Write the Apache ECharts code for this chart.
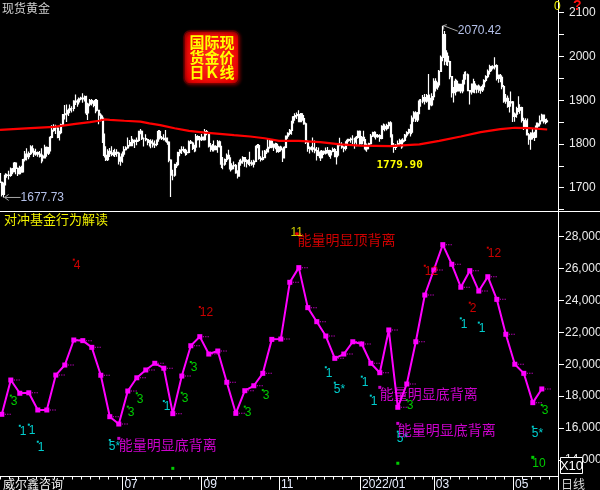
<!DOCTYPE html>
<html><head><meta charset="utf-8">
<script src="https://cdn.jsdelivr.net/npm/echarts@6/dist/echarts.min.js"></script>
<style>html,body{margin:0;padding:0;background:#000;}#c{width:600px;height:490px;}</style>
</head><body><div id="c"></div>
<script>
// ---- daily candles [open, close, low, high], trading day index 0 = 2021-03-29 ----
const candles = [
[1732,1712,1705,1733],[1712,1685,1680,1714],[1685,1708,1677.73,1712],[1708,1728,1705,1733],[1728,1729,1723,1732],
[1729,1728,1719,1739],[1728,1743,1725,1746],[1743,1737,1731,1745],[1737,1756,1736,1759],[1756,1744,1731,1758],
[1744,1732,1727,1746],[1732,1746,1730,1750],[1746,1736,1734,1750],[1736,1764,1735,1766],[1764,1777,1760,1784],
[1777,1771,1762,1790],[1771,1778,1765,1783],[1778,1793,1775,1797],[1793,1783,1780,1797],[1783,1777,1770,1790],
[1777,1780,1773,1789],[1780,1777,1771,1783],[1777,1773,1769,1784],[1773,1772,1756,1790],[1772,1768,1760,1776],
[1768,1792,1768,1798],[1792,1779,1771,1794],[1779,1785,1775,1793],[1785,1815,1783,1818],[1815,1831,1813,1843],
[1831,1836,1828,1845],[1836,1836,1823,1844],[1836,1815,1813,1838],[1815,1826,1808,1830],[1826,1844,1822,1846],
[1844,1867,1842,1868],[1867,1869,1856,1889],[1869,1869,1850,1890],[1869,1877,1864,1881],[1877,1881,1870,1890],
[1881,1881,1872,1886],[1881,1898,1875,1900],[1898,1896,1889,1913],[1896,1896,1885,1902],[1896,1903,1890,1906],
[1903,1905,1900,1908],[1905,1903,1894,1916],[1903,1908,1897,1911],[1908,1871,1866,1910],[1871,1891,1855,1894],
[1891,1899,1886,1903],[1899,1893,1888,1903],[1893,1888,1884,1899],[1888,1899,1870,1903],[1899,1877,1874,1903],
[1877,1866,1845,1878],[1866,1859,1852,1870],[1859,1812,1802,1865],[1812,1774,1769,1824],[1774,1764,1761,1795],
[1764,1783,1761,1788],[1783,1778,1770,1791],[1778,1779,1772,1795],[1779,1776,1772,1786],[1776,1781,1770,1789],
[1781,1779,1771,1788],[1779,1761,1753,1782],[1761,1770,1750,1771],[1770,1777,1757,1783],[1777,1787,1771,1795],
[1787,1791,1785,1795],[1791,1796,1789,1815],[1796,1803,1794,1809],[1803,1803,1795,1818],[1803,1808,1795,1812],
[1808,1806,1791,1810],[1806,1808,1797,1815],[1808,1825,1805,1830],[1825,1829,1822,1834],[1829,1812,1809,1831],
[1812,1812,1794,1815],[1812,1810,1806,1822],[1810,1804,1797,1812],[1804,1806,1794,1809],[1806,1802,1790,1811],
[1802,1798,1792,1810],[1798,1799,1791,1808],[1799,1807,1795,1810],[1807,1828,1805,1832],[1828,1814,1810,1832],
[1814,1813,1809,1818],[1813,1810,1808,1822],[1810,1813,1805,1832],[1813,1804,1798,1815],[1804,1763,1758,1806],
[1763,1729,1679,1765],[1729,1729,1717,1741],[1729,1752,1725,1755],[1752,1753,1745,1758],[1753,1780,1749,1782],
[1780,1786,1772,1788],[1786,1787,1777,1795],[1787,1787,1781,1794],[1787,1780,1773,1789],[1780,1781,1775,1787],
[1781,1805,1779,1808],[1805,1802,1800,1809],[1802,1790,1786,1805],[1790,1793,1781,1798],[1793,1817,1783,1823],
[1817,1810,1808,1820],[1810,1814,1792,1818],[1814,1815,1807,1823],[1815,1810,1808,1817],[1810,1828,1808,1834],
[1828,1824,1820,1832],[1824,1795,1792,1827],[1795,1788,1782,1802],[1788,1795,1783,1800],[1795,1787,1783,1808],
[1787,1794,1786,1797],[1794,1805,1780,1809],[1805,1794,1792,1808],[1794,1754,1745,1796],[1754,1754,1742,1770],
[1754,1764,1750,1767],[1764,1774,1759,1778],[1774,1768,1765,1787],[1768,1743,1737,1769],[1743,1750,1740,1756],
[1750,1751,1742,1760],[1751,1734,1732,1754],[1734,1727,1721,1740],[1727,1757,1725,1764],[1757,1761,1750,1766],
[1761,1769,1755,1772],[1769,1760,1748,1770],[1760,1762,1746,1765],[1762,1756,1752,1765],[1756,1757,1749,1782],
[1757,1754,1750,1763],[1754,1760,1746,1764],[1760,1793,1758,1796],[1793,1796,1790,1800],[1796,1767,1764,1800],
[1767,1765,1760,1772],[1765,1769,1762,1785],[1769,1783,1768,1786],[1783,1782,1777,1789],[1782,1792,1781,1813],
[1792,1807,1789,1810],[1807,1793,1790,1810],[1793,1798,1784,1801],[1798,1799,1788,1803],[1799,1783,1780,1802],
[1783,1793,1780,1796],[1793,1787,1783,1796],[1787,1769,1759,1790],[1769,1792,1767,1795],[1792,1818,1790,1819],
[1818,1824,1812,1827],[1824,1831,1820,1834],[1831,1850,1821,1853],[1850,1862,1847,1864],[1862,1865,1853,1870],
[1865,1867,1857,1872],[1867,1851,1850,1877],[1851,1869,1850,1871],[1869,1858,1853,1869],[1858,1846,1844,1866],
[1846,1804,1800,1849],[1804,1790,1782,1808],[1790,1789,1778,1794],[1789,1791,1785,1795],[1791,1788,1781,1815],
[1788,1785,1779,1808],[1785,1774,1762,1793],[1774,1781,1772,1792],[1781,1769,1761,1785],[1769,1783,1767,1786],
[1783,1779,1775,1785],[1779,1785,1776,1792],[1785,1783,1778,1793],[1783,1775,1770,1787],[1775,1783,1766,1786],
[1783,1787,1781,1792],[1787,1771,1770,1791],[1771,1777,1753,1784],[1777,1799,1773,1800],[1799,1798,1795,1814],
[1798,1793,1789,1804],[1793,1790,1781,1795],[1790,1803,1785,1806],[1803,1808,1800,1812],[1808,1810,1805,1812],
[1810,1811,1803,1815],[1811,1811,1800,1820],[1811,1805,1789,1814],[1805,1815,1795,1818],[1815,1829,1812,1831],
[1829,1801,1798,1831],[1801,1815,1799,1818],[1815,1810,1806,1830],[1810,1789,1785,1811],[1789,1797,1782,1801],
[1797,1801,1788,1803],[1801,1818,1799,1823],[1818,1826,1816,1828],[1826,1821,1814,1829],[1821,1817,1810,1828],
[1817,1819,1814,1823],[1819,1813,1805,1822],[1813,1840,1811,1843],[1840,1840,1832,1847],[1840,1835,1829,1845],
[1835,1842,1831,1846],[1842,1848,1835,1851],[1848,1820,1815,1852],[1820,1797,1794,1822],[1797,1792,1780,1802],
[1792,1797,1786,1800],[1797,1801,1794,1808],[1801,1807,1797,1812],[1807,1805,1789,1811],[1805,1808,1792,1813],
[1808,1820,1805,1823],[1820,1826,1815,1829],[1826,1833,1822,1835],[1833,1827,1817,1845],[1827,1859,1822,1865],
[1859,1871,1851,1875],[1871,1855,1850,1875],[1855,1871,1850,1873],[1871,1898,1868,1902],[1898,1898,1885,1903],
[1898,1906,1893,1912],[1906,1898,1890,1914],[1898,1910,1894,1914],[1910,1904,1878,1960],[1904,1889,1878,1913],
[1889,1908,1886,1916],[1908,1943,1900,1950],[1943,1928,1920,1950],[1928,1935,1924,1941],[1935,1966,1929,1969],
[1966,1998,1966,2002],[1998,2050,1989,2070.42],[2050,1990,1980,2058],[1990,2000,1980,2014],[2000,1988,1978,2009],
[1988,1954,1948,1990],[1954,1917,1906,1955],[1917,1928,1895,1930],[1928,1943,1911,1949],[1943,1921,1918,1947],
[1921,1936,1920,1938],[1936,1921,1916,1937],[1921,1944,1916,1947],[1944,1958,1936,1965],[1958,1958,1947,1966],
[1958,1922,1921,1961],[1922,1919,1890,1923],[1919,1933,1913,1938],[1933,1937,1917,1949],[1937,1925,1916,1944],
[1925,1932,1916,1934],[1932,1923,1917,1936],[1923,1925,1915,1931],[1925,1931,1919,1936],[1931,1945,1922,1948],
[1945,1954,1941,1957],[1954,1966,1950,1970],[1966,1977,1959,1981],[1977,1974,1966,1979],[1974,1976,1970,1980],
[1976,1979,1970,1998],[1979,1950,1945,1982],[1950,1957,1940,1959],[1957,1952,1941,1960],[1952,1931,1925,1957],
[1931,1898,1894,1935],[1898,1904,1892,1914],[1904,1886,1883,1911],[1886,1894,1872,1898],[1894,1896,1885,1920],
[1896,1863,1850,1898],[1863,1868,1851,1872],[1868,1881,1860,1885],[1881,1877,1873,1909],[1877,1883,1869,1891],
[1883,1854,1849,1885],[1854,1838,1832,1860],[1838,1852,1835,1859],[1852,1821,1820,1858],[1821,1811,1798,1825],
[1811,1825,1787,1827],[1825,1815,1810,1834],[1815,1816,1807,1828],[1816,1841,1814,1849],[1841,1846,1834,1849],
[1846,1853,1840,1865],[1853,1866,1852,1869],[1866,1853,1847,1867],[1853,1851,1845,1857],[1851,1853,1848,1858]
];
// moving average (red) [day index, value]
const maLine = [[0,1832],[17,1836],[30,1839],[42,1846],[50,1850],[55,1853],[58,1856],[61,1855],[69,1853],[78,1851],
[83,1847],[89,1843],[97,1836],[105,1830],[114,1826],[122,1823],[130,1820],[139,1817],[147,1813],[155,1807],
[166,1807],[178,1804],[189,1799],[200,1796],[217,1795],[228,1798],[233,1799],[244,1807],[256,1817],[267,1827],
[278,1834],[286,1837],[294,1836],[304,1833]];
// weekly hedge-fund indicator (one value per week)
const weeklyValues = [16860,19010,18180,18210,17130,17130,19320,19950,21520,21480,21060,19310,16710,16250,18320,
19150,19640,20060,19750,16900,19260,21160,21730,20640,20830,18870,16920,18340,18650,19430,21560,21580,25140,
26060,
23550,22670,21770,20370,20640,21410,21270,20060,19470,22150,17300,18760,21410,24340,25910,27500,26270,24830,
25870,24590,25490,24070,21880,20000,19430,17590,18450];
// month starts on the day axis
const monthIdx = [68,112,155,200,241,285];
const monthLabels = ['07','09','11','2022/01','03','05'];
// signals [day index, value, text]
const redNums = [[41,26560,'4'],[111,23590,'12'],[236,26180,'12'],[261,23860,'2'],[271,27310,'12']];
const cyanOnes = [[11,16140,'1'],[16,16210,'1'],[21,15140,'1'],[91,17690,'1'],[181,19810,'1'],[201,19220,'1'],[206,18030,'1'],[256,22880,'1'],[266,22610,'1']];
const cyanStars = [[61,15250,'5*'],[186,18840,'5*'],[221,15770,'5*'],[296,16080,'5*']];
const greenThrees = [[6,18030,'3'],[71,17340,'3'],[76,18180,'3'],[101,18210,'3'],[106,20140,'3'],[136,17340,'3'],[146,18380,'3'],[226,17760,'3'],[301,17440,'3']];
const greenTens = [[296,14160,'10'],[221,13790,''],[96,13470,'']];
const bottomDiv = [[66,15350,'能量明显底背离'],[211,18550,'能量明显底背离'],[221,16290,'能量明显底背离']];
const topDiv = [[165,28170,'能量明显顶背离','11']];
const lowNote = [2,1677.73,'1677.73'];
const highNote = [246,2070.42,'2070.42'];
const maNote = [222,1752,'1779.90'];

const N = 311;
const days = Array.from({length:N}, (_, i) => String(i));
const weekly = weeklyValues.map((v, k) => [1 + 5 * k, v]);
const FONT = 'Liberation Sans';
const NUMF = "'Liberation Sans Narrow','Liberation Sans'";
const CJK = "'Noto Sans CJK SC'";

function sig(data, dotColor, dotSize, textColor, fontSize, fontFamily, pos, textIdx) {
  return {type:'scatter', xAxisIndex:1, yAxisIndex:1, clip:false, symbol:'rect', symbolSize:dotSize,
    itemStyle:{color:dotColor}, data:data, z:5, silent:true,
    label:{show:true, position:pos, align:'left', verticalAlign:'top', formatter:p => p.data[textIdx],
      color:textColor, fontSize:fontSize, fontFamily:fontFamily}};
}

const chart = echarts.init(document.getElementById('c'), null, {renderer:'canvas'});
const gridBase = {left:0, width:558, outerBoundsMode:'none', containLabel:false};
chart.setOption({
  backgroundColor:'#000',
  animation:false,
  textStyle:{fontFamily:FONT},
  grid:[
    Object.assign({top:12.7, height:196.9}, gridBase),
    Object.assign({top:236.7, height:223.2}, gridBase),
    Object.assign({top:470, height:6.5}, gridBase)
  ],
  xAxis:[
    {type:'category', gridIndex:0, data:days, boundaryGap:false, show:false},
    {type:'category', gridIndex:1, data:days, boundaryGap:false, show:false},
    {type:'category', gridIndex:2, data:days, boundaryGap:false, position:'bottom',
      axisLine:{show:true, lineStyle:{color:'#fff', width:1}},
      axisTick:{show:true, interval:(i) => i % 5 === 0, length:3, lineStyle:{color:'#fff'}},
      axisLabel:{show:false}, splitLine:{show:false}},
    {type:'category', gridIndex:2, data:days, boundaryGap:false, position:'bottom',
      axisLine:{show:false},
      axisTick:{show:true, interval:(i) => monthIdx.indexOf(i) >= 0, length:14, lineStyle:{color:'#fff'}},
      axisLabel:{show:true, interval:(i) => monthIdx.indexOf(i) >= 0,
        formatter:(v, i) => { const k = monthIdx.indexOf(Number(v)); return k >= 0 ? monthLabels[k] : ''; },
        align:'left', margin:2, padding:[0,0,0,2], color:'#e8eeff', fontSize:12, fontFamily:FONT},
      splitLine:{show:false}}
  ],
  yAxis:[
    {type:'value', gridIndex:0, position:'right', min:1650, max:2100, interval:50,
      axisLine:{show:true, lineStyle:{color:'#fff'}},
      axisTick:{show:true, length:6, lineStyle:{color:'#fff'}},
      axisLabel:{formatter:v => (v % 100 === 0 ? String(v) : ''), color:'#ececec', fontSize:12, margin:11, fontFamily:FONT},
      splitLine:{show:false}},
    {type:'value', gridIndex:1, position:'right', min:14000, max:28000, interval:2000,
      axisLine:{show:true, lineStyle:{color:'#fff'}},
      axisTick:{show:true, length:6, lineStyle:{color:'#fff'}},
      axisLabel:{color:'#ececec', fontSize:12, margin:7, fontFamily:FONT},
      splitLine:{show:false}},
    {type:'value', gridIndex:2, show:false}
  ],
  series:[
    {type:'candlestick', xAxisIndex:0, yAxisIndex:0, data:candles, barWidth:1.5, silent:true,
      itemStyle:{color:'#fff', color0:'#fff', borderColor:'#fff', borderColor0:'#fff', borderWidth:1.2}},
    {type:'line', xAxisIndex:0, yAxisIndex:0, data:maLine, symbol:'none', silent:true,
      lineStyle:{color:'#ff0000', width:2.2}, z:3},
    {type:'line', xAxisIndex:1, yAxisIndex:1, data:weekly, symbol:'rect', symbolSize:5, showSymbol:true, showAllSymbol:true, silent:true,
      itemStyle:{color:'#ff00ff'}, lineStyle:{color:'#ff00ff', width:2}, z:4},
    {type:'scatter', xAxisIndex:1, yAxisIndex:1, data:weekly, silent:true,
      symbol:'path://M0 0H1V1H0Z M2 0H3V1H2Z M4 0H5V1H4Z', symbolSize:[6,1], symbolOffset:[6,0],
      itemStyle:{color:'#ff00ff'}, z:4},
    sig(redNums, '#ff0000', 2, '#ff0000', 12, NUMF, [1,1], 2),
    sig(cyanOnes, '#00ffff', 2, '#00ffff', 12, NUMF, [1,1], 2),
    sig(cyanStars, '#00ffff', 2, '#00ffff', 12, NUMF, [0,2], 2),
    sig(greenThrees, '#00ff00', 2, '#00ff00', 12, NUMF, [1,1], 2),
    sig(greenTens, '#00ff00', 3, '#00ff00', 12, NUMF, [1,2], 2),
    sig(bottomDiv, '#ff00ff', 3, '#ff00ff', 14, CJK, [1.5,1], 2),
    sig(topDiv, '#ff0000', 3, '#ff0000', 14, CJK, [2,0], 2),
    sig(topDiv, '#ff0000', 3, '#ffff00', 12, NUMF, [-5,-6], 3)
  ]
});

// ---- annotations anchored through the chart's own scales ----
const NOTE = '#b4c0e8', LINE = '#a8a8a8';
const pl = chart.convertToPixel({gridIndex:0}, [lowNote[0], lowNote[1]]);
const ph = chart.convertToPixel({gridIndex:0}, [highNote[0], highNote[1]]);
const pm = chart.convertToPixel({gridIndex:0}, [maNote[0], maNote[1]]);
function T(x, y, s, fill, font, align, valign, z) {
  return {type:'text', x:x, y:y, z:z || 20, silent:true,
    style:{text:s, fill:fill, font:font, textAlign:align || 'left', textVerticalAlign:valign || 'top',
      align:align || 'left', verticalAlign:valign || 'top'}};
}
function L(x1, y1, x2, y2, c, w) {
  return {type:'line', z:20, silent:true, shape:{x1:x1, y1:y1, x2:x2, y2:y2}, style:{stroke:c, lineWidth:w || 1}};
}
const graphics = [
  L(558.5, 0, 558.5, 490, '#ffffff'),
  L(0, 211.5, 600, 211.5, '#ffffff'),
  T(2, 2, '现货黄金', '#d0d0d0', '12px ' + CJK),
  T(4, 213, '对冲基金行为解读', '#f0f000', '13px ' + CJK),
  T(554, 1, '0', '#f0f000', '12px ' + FONT),
  T(573, -1, '?', '#ff1010', 'bold 14px ' + FONT),
  {type:'rect', z:19, silent:true, shape:{x:184, y:31, width:55, height:53, r:6},
    style:{fill:new echarts.graphic.RadialGradient(0.5, 0.5, 0.75, [
      {offset:0, color:'#ff3020'}, {offset:0.75, color:'#e80000'}, {offset:1, color:'#800000'}]),
      stroke:'#5a0000', lineWidth:1.5, shadowBlur:3, shadowColor:'rgba(90,0,0,0.9)', shadowOffsetX:1, shadowOffsetY:1}},
  T(212, 42, '国际现', '#ffff00', 'bold 15px ' + CJK, 'center', 'middle'),
  T(212, 57, '货金价', '#ffff00', 'bold 15px ' + CJK, 'center', 'middle'),
  T(212, 72.5, '日Ｋ线', '#ffff00', 'bold 15px ' + CJK, 'center', 'middle'),
  // low note
  L(pl[0] + 1, pl[1], pl[0] + 17, pl[1], LINE),
  L(pl[0] + 1, pl[1], pl[0] + 5, pl[1] - 3, LINE),
  L(pl[0] + 1, pl[1], pl[0] + 5, pl[1] + 3, LINE),
  T(pl[0] + 17, pl[1], lowNote[2], NOTE, '12px ' + FONT, 'left', 'middle'),
  // high note
  L(ph[0] + 0.5, ph[1], ph[0] + 15, ph[1] + 5.5, LINE),
  L(ph[0] + 0.5, ph[1], ph[0] + 1, ph[1] + 4, LINE),
  L(ph[0] + 0.5, ph[1], ph[0] + 4, ph[1] - 1, LINE),
  T(ph[0] + 15, ph[1] + 5.5, highNote[2], NOTE, '12px ' + FONT, 'left', 'middle'),
  // MA note
  T(pm[0], pm[1], maNote[2], '#ffff00', 'bold 11px "DejaVu Sans Mono"', 'center', 'middle'),
  // bottom strip
  T(3, 478, '威尔鑫咨询', '#f4f4f4', '12px ' + CJK),
  T(561, 478, '日线', '#d8d8d8', '12px ' + CJK),
  {type:'rect', z:30, silent:true, shape:{x:560.5, y:457.5, width:22, height:16}, style:{fill:'#000', stroke:'#ffffff', lineWidth:1}},
  T(571.5, 466, 'X10', '#ffffff', '13px ' + FONT, 'center', 'middle', 31)
];
chart.setOption({graphic:graphics});
</script>
</body></html>
